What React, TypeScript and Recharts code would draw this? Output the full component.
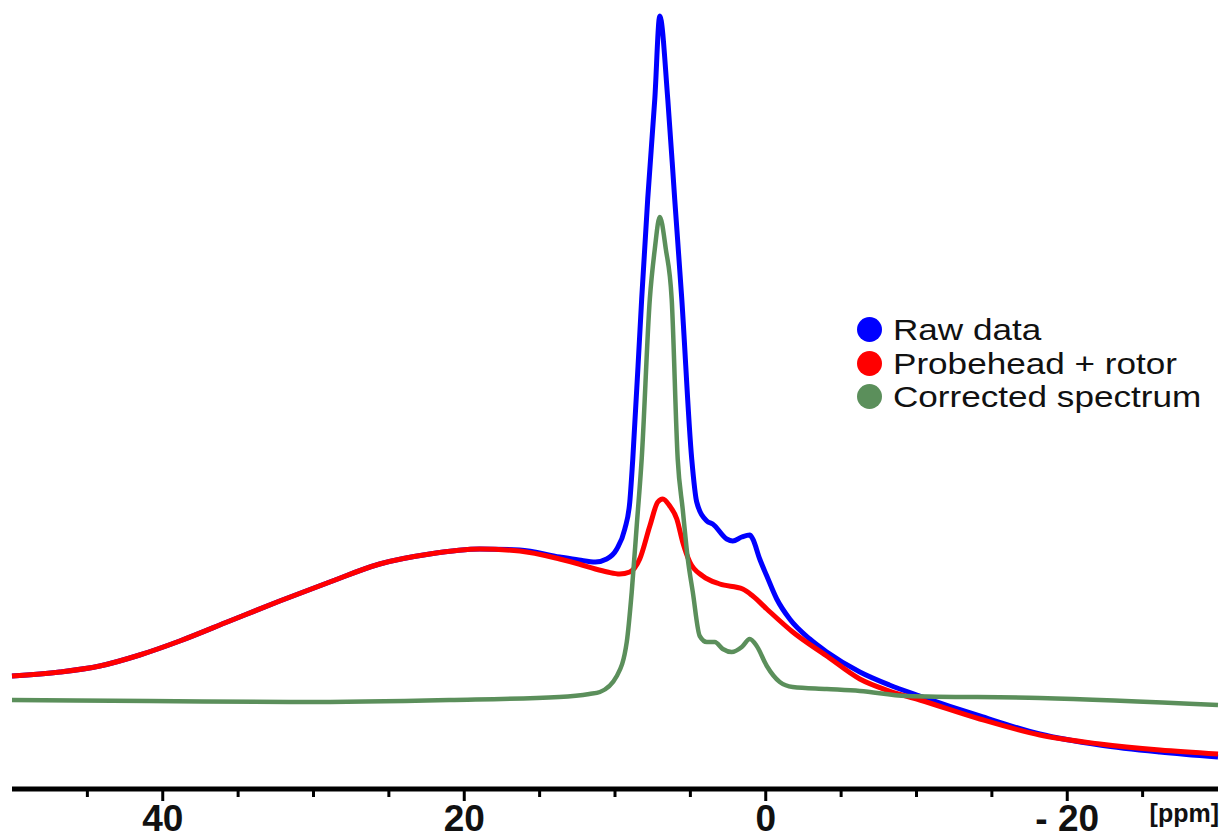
import React from 'react';
import { LineChart, Line, XAxis, YAxis } from 'recharts';

// chemical shift (ppm) and intensity (a.u.)
const rawPpm = [50.0, 46.83, 44.18, 41.53, 38.87, 35.56, 32.24, 28.92, 25.61, 22.29, 18.97, 16.32, 13.67, 12.4, 11.3, 10.55, 9.88, 9.35, 9.02, 8.82, 8.23, 7.83, 7.36, 7.03, 6.5, 6.04, 5.57, 4.91, 4.58, 3.91, 3.52, 2.59, 2.19, 1.59, 1.06, 0.86, 0.4, -0.07, -0.73, -1.59, -2.92, -4.05, -6.24, -8.2, -10.22, -14.2, -18.18, -22.16, -26.14, -30.0];
const rawIntensity = [113, 117, 123, 134, 148, 168, 188, 207, 225, 235, 240, 239, 232, 229, 227, 230, 240, 260, 287, 330, 490, 590, 690, 773, 690, 590, 490, 330, 287, 268, 265, 250, 248, 252, 254, 250, 230, 213, 190, 170, 150, 137, 117, 104, 93, 73, 55, 44, 37, 32];

const probePpm = [50.0, 46.83, 44.18, 41.53, 38.87, 35.56, 32.24, 28.92, 25.61, 22.29, 18.97, 16.32, 13.67, 12.4, 11.3, 10.5, 9.69, 9.02, 8.36, 7.69, 7.16, 6.83, 6.37, 5.9, 5.51, 5.04, 4.18, 3.05, 1.53, 0.86, -0.07, -1.79, -4.05, -6.24, -8.2, -10.22, -14.2, -18.18, -22.16, -26.14, -30.0];
const probeIntensity = [113, 117, 123, 134, 148, 168, 188, 207, 225, 235, 240, 238, 230, 225, 220, 217, 215, 217, 230, 263, 287, 290, 283, 270, 247, 227, 213, 205, 200, 193, 180, 157, 133, 110, 98, 89, 70, 54, 45, 39, 35];

const correctedPpm = [50.0, 40.9, 30.9, 21.0, 13.7, 11.7, 11.0, 9.88, 9.22, 8.89, 8.56, 8.23, 7.69, 7.36, 7.03, 6.63, 6.24, 5.84, 5.51, 5.17, 4.84, 4.38, 3.91, 3.38, 2.85, 2.26, 1.59, 1.06, 0.6, -0.07, -0.93, -1.79, -4.05, -6.24, -9.35, -18.18, -30.0];
const correctedIntensity = [89, 88, 87, 89, 92, 95, 97, 113, 147, 197, 263, 330, 490, 540, 572, 540, 490, 330, 280, 230, 197, 153, 147, 147, 140, 137, 142, 150, 143, 123, 107, 102, 100, 98, 93, 91, 84];

const tickValues = [45, 40, 35, 30, 25, 20, 15, 10, 5, 0, -5, -10, -15, -20, -25];
const majorValues = [40, 20, 0, -20];
const majorLabels = ['40', '20', '0', '- 20'];

const seriesNames = ['Raw data', 'Probehead + rotor', 'Corrected spectrum'];
const seriesColors = ['#0000ff', '#ff0000', '#5b8f5b'];

const toPoints = (ppm: number[], v: number[]) => ppm.map((p, i) => ({ ppm: p, v: v[i] }));

const rawData = toPoints(rawPpm, rawIntensity);
const probeData = toPoints(probePpm, probeIntensity);
const correctedData = toPoints(correctedPpm, correctedIntensity);

const font = "'Liberation Sans', Arial, sans-serif";

const PpmTick = (props: any) => {
  const { x, y, payload } = props;
  const idx = majorValues.indexOf(payload.value);
  const major = idx >= 0;
  return (
    <g>
      <line x1={x} x2={x} y1={y} y2={y + (major ? 12 : 8)} stroke="#000" strokeWidth={3} />
      {major && (
        <text x={x} y={y + 42} textAnchor="middle" fill="#111" fontSize={37} fontWeight="bold" fontFamily={font}>
          {majorLabels[idx]}
        </text>
      )}
    </g>
  );
};

const SpectrumLegend = () => (
  <div style={{ position: 'absolute', left: 857, top: 313, fontFamily: font, fontSize: 30, color: '#111' }}>
    {seriesNames.map((name, i) => (
      <div key={name} style={{ display: 'flex', alignItems: 'center', height: 33.5, whiteSpace: 'nowrap' }}>
        <span style={{ display: 'block', width: 25, height: 25, borderRadius: '50%', background: seriesColors[i], marginRight: 11 }} />
        <span style={{ display: 'block', height: 33.5, lineHeight: '33.5px', transform: 'scaleX(1.17)', transformOrigin: 'left center' }}>{name}</span>
      </div>
    ))}
  </div>
);

const App: React.FC = () => {
  return (
    <div style={{ position: 'absolute', left: 0, top: 0, width: 1226, height: 839, background: '#fff' }}>
      <LineChart width={1226} height={839} margin={{ top: 9, right: 8, left: 12, bottom: 0 }}>
        <XAxis
          dataKey="ppm"
          type="number"
          domain={[-30, 50]}
          reversed
          ticks={tickValues}
          interval={0}
          height={50}
          tickSize={0}
          tickMargin={0}
          tickLine={false}
          axisLine={{ stroke: '#000', strokeWidth: 5 }}
          tick={<PpmTick />}
          label={(p: any) => {
            const vb = p.viewBox;
            return (
              <text x={vb.x + vb.width + 1} y={vb.y + 33} textAnchor="end" fill="#111" fontSize={25} fontWeight="bold" fontFamily={font}>
                [ppm]
              </text>
            );
          }}
        />
        <YAxis hide domain={[0, 780]} />
        <Line data={rawData} dataKey="v" name={seriesNames[0]} type="monotone" stroke={seriesColors[0]} strokeWidth={5} dot={false} isAnimationActive={false} />
        <Line data={probeData} dataKey="v" name={seriesNames[1]} type="monotone" stroke={seriesColors[1]} strokeWidth={5} dot={false} isAnimationActive={false} />
        <Line data={correctedData} dataKey="v" name={seriesNames[2]} type="monotone" stroke={seriesColors[2]} strokeWidth={4.5} dot={false} isAnimationActive={false} />
      </LineChart>
      <SpectrumLegend />
    </div>
  );
};

export default App;
